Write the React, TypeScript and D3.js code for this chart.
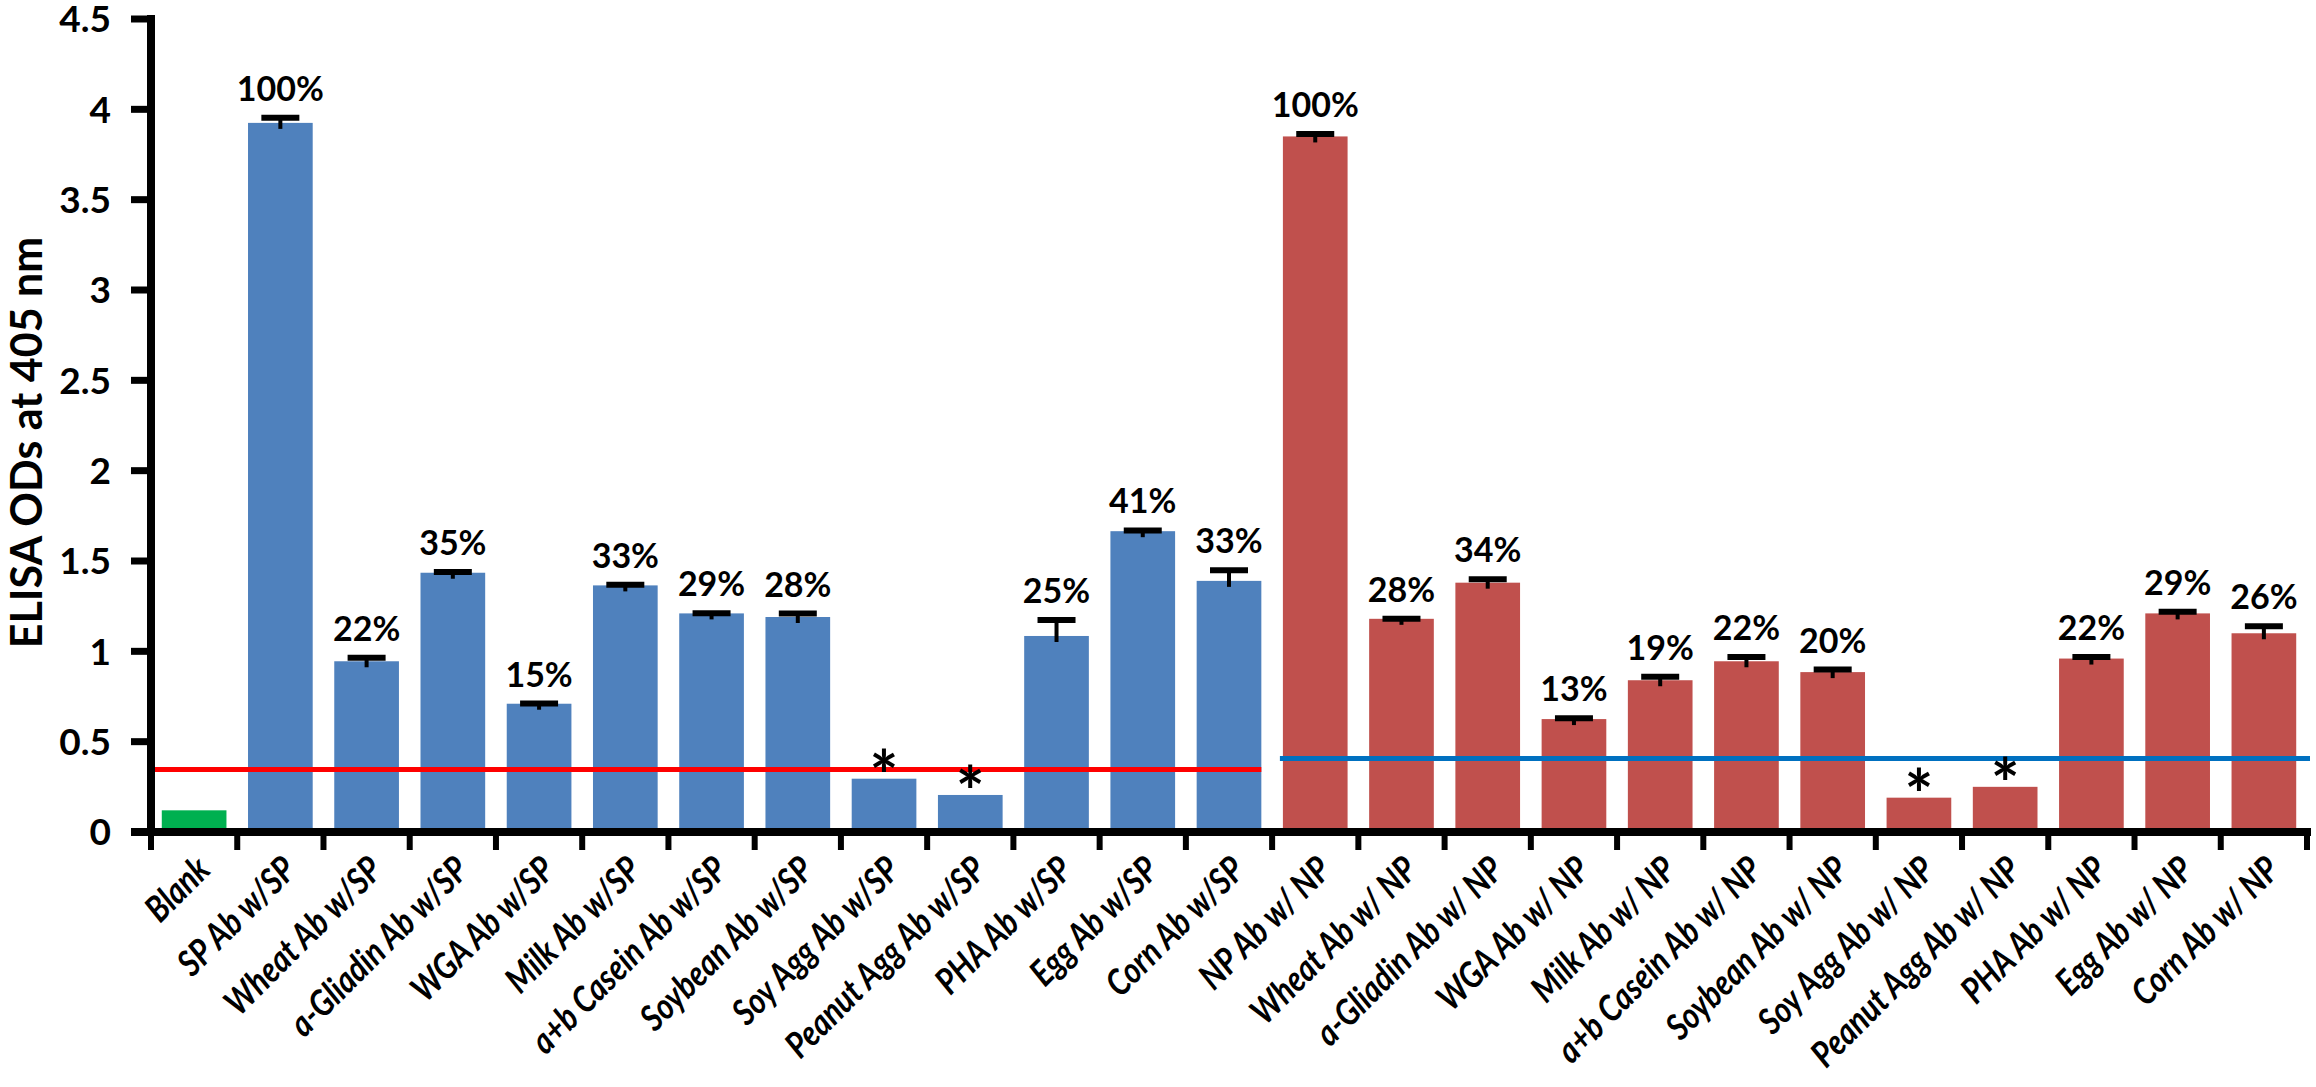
import React from "react";
import * as d3 from "d3";

const categories = [
  "Blank",
  "SP Ab w/SP",
  "Wheat Ab w/SP",
  "a-Gliadin Ab w/SP",
  "WGA Ab w/SP",
  "Milk Ab w/SP",
  "a+b Casein Ab w/SP",
  "Soybean Ab w/SP",
  "Soy Agg Ab w/SP",
  "Peanut Agg Ab w/SP",
  "PHA Ab w/SP",
  "Egg Ab w/SP",
  "Corn Ab w/SP",
  "NP Ab w/ NP",
  "Wheat Ab w/ NP",
  "a-Gliadin Ab w/ NP",
  "WGA Ab w/ NP",
  "Milk Ab w/ NP",
  "a+b Casein Ab w/ NP",
  "Soybean Ab w/ NP",
  "Soy Agg Ab w/ NP",
  "Peanut Agg Ab w/ NP",
  "PHA Ab w/ NP",
  "Egg Ab w/ NP",
  "Corn Ab w/ NP",
];

const groups = [
  "blank",
  "sp", "sp", "sp", "sp", "sp", "sp", "sp", "sp", "sp", "sp", "sp", "sp",
  "np", "np", "np", "np", "np", "np", "np", "np", "np", "np", "np", "np",
];

const values = [
  0.12,
  3.925, 0.945, 1.435, 0.71, 1.365, 1.21, 1.19, 0.295, 0.205, 1.085, 1.665, 1.39,
  3.85, 1.18, 1.38, 0.625, 0.84, 0.945, 0.885, 0.19, 0.25, 0.96, 1.21, 1.1,
];

const errors: (number | null)[] = [
  null,
  0.04, 0.03, 0.015, 0.012, 0.015, 0.012, 0.03, null, null, 0.1, 0.015, 0.07,
  0.025, 0.012, 0.03, 0.015, 0.03, 0.035, 0.025, null, null, 0.02, 0.02, 0.05,
];

const percentLabels = [
  "",
  "100%", "22%", "35%", "15%", "33%", "29%", "28%", "", "", "25%", "41%", "33%",
  "100%", "28%", "34%", "13%", "19%", "22%", "20%", "", "", "22%", "29%", "26%",
];

const starred = [
  false,
  false, false, false, false, false, false, false, true, true, false, false, false,
  false, false, false, false, false, false, false, true, true, false, false, false,
];

const yTicks = [0, 0.5, 1, 1.5, 2, 2.5, 3, 3.5, 4, 4.5];
const yTickLabels = ["0", "0.5", "1", "1.5", "2", "2.5", "3", "3.5", "4", "4.5"];

const cutoffSP = 0.346;
const cutoffNP = 0.407;

const yTitle = "ELISA ODs at 405 nm";

const colors: Record<string, string> = {
  blank: "#00B050",
  sp: "#4F81BD",
  np: "#C0504D",
};

const W = 2316;
const H = 1087;
const FONT = "Lato, 'Open Sans', sans-serif";

export default function App() {
  const x0 = 151;
  const x1 = 2307;
  const yBase = 832;
  const yTop = 19;

  const x = d3
    .scaleBand<number>()
    .domain(d3.range(categories.length))
    .range([x0, x1])
    .paddingInner(0.25)
    .paddingOuter(0.125);
  const step = x.step();
  const bw = x.bandwidth();

  const y = d3.scaleLinear().domain([0, 4.5]).range([yBase, yTop]);

  const boundaries = d3.range(categories.length + 1).map((i) => x0 + i * step);

  const lastSP = groups.lastIndexOf("sp");
  const firstNP = groups.indexOf("np");

  return (
    <svg
      width={W}
      height={H}
      viewBox={`0 0 ${W} ${H}`}
      style={{ position: "absolute", left: 0, top: 0, background: "#fff" }}
      fontFamily={FONT}
    >
      {/* bars */}
      {values.map((v, i) => (
        <rect
          key={"b" + i}
          x={x(i)}
          y={y(v)}
          width={bw}
          height={y(0) - y(v)}
          fill={colors[groups[i]]}
        />
      ))}

      {/* cutoff lines */}
      <line
        x1={x0}
        x2={(x(lastSP) as number) + bw}
        y1={y(cutoffSP)}
        y2={y(cutoffSP)}
        stroke="#FF0000"
        strokeWidth={5}
      />
      <line
        x1={(x(firstNP) as number) - 3}
        x2={x1 + 3}
        y1={y(cutoffNP)}
        y2={y(cutoffNP)}
        stroke="#0070C0"
        strokeWidth={5}
      />

      {/* error bars */}
      {values.map((v, i) => {
        const e = errors[i];
        if (e == null) return null;
        const cx = (x(i) as number) + bw / 2;
        const top = y(v + e);
        return (
          <g key={"e" + i}>
            <line x1={cx} x2={cx} y1={y(v) + 6} y2={top} stroke="#000" strokeWidth={4} />
            <line x1={cx - 19} x2={cx + 19} y1={top + 2} y2={top + 2} stroke="#000" strokeWidth={6} />
          </g>
        );
      })}

      {/* percent labels */}
      {values.map((v, i) => {
        const t = percentLabels[i];
        if (!t) return null;
        const cx = (x(i) as number) + bw / 2;
        const top = y(v + (errors[i] ?? 0));
        return (
          <text
            key={"p" + i}
            x={cx}
            y={top - 15}
            textAnchor="middle"
            fontSize={34}
            fontWeight="bold"
            fill="#000"
          >
            {t}
          </text>
        );
      })}

      {/* stars */}
      {values.map((v, i) => {
        if (!starred[i]) return null;
        const cx = (x(i) as number) + bw / 2;
        return (
          <text
            key={"s" + i}
            x={cx}
            y={y(v) + 22}
            textAnchor="middle"
            fontSize={68}
            fontWeight="bold"
            fill="#000"
          >
            *
          </text>
        );
      })}

      {/* y axis */}
      <line x1={x0} x2={x0} y1={yTop - 4} y2={yBase + 4} stroke="#000" strokeWidth={8} />
      {yTicks.map((t, i) => (
        <g key={"yt" + i}>
          <line x1={x0 - 20} x2={x0} y1={y(t)} y2={y(t)} stroke="#000" strokeWidth={7} />
          <text
            x={x0 - 40}
            y={y(t)}
            dy="0.36em"
            textAnchor="end"
            fontSize={37}
            fontWeight="bold"
            fill="#000"
          >
            {yTickLabels[i]}
          </text>
        </g>
      ))}

      {/* x axis */}
      <line x1={x0 - 20} x2={x1 + 4} y1={yBase} y2={yBase} stroke="#000" strokeWidth={8} />
      {boundaries.map((bx, i) => (
        <line key={"xt" + i} x1={bx} x2={bx} y1={yBase} y2={yBase + 18} stroke="#000" strokeWidth={6} />
      ))}

      {/* x labels */}
      {categories.map((c, i) => {
        const cx = (x(i) as number) + bw / 2;
        const ax = cx + 18;
        const ay = yBase + 40;
        return (
          <text
            key={"xl" + i}
            x={0}
            y={0}
            textAnchor="end"
            fontSize={36}
            fontWeight="bold"
            fontStyle="italic"
            fill="#000"
            transform={`translate(${ax}, ${ay}) rotate(-45) scale(0.85, 1)`}
          >
            {c}
          </text>
        );
      })}

      {/* y title */}
      <text
        x={0}
        y={0}
        transform={`translate(42, ${(yTop + yBase) / 2 + 17}) rotate(-90)`}
        textAnchor="middle"
        fontSize={43}
        fontWeight="bold"
        fill="#000"
      >
        {yTitle}
      </text>
    </svg>
  );
}
